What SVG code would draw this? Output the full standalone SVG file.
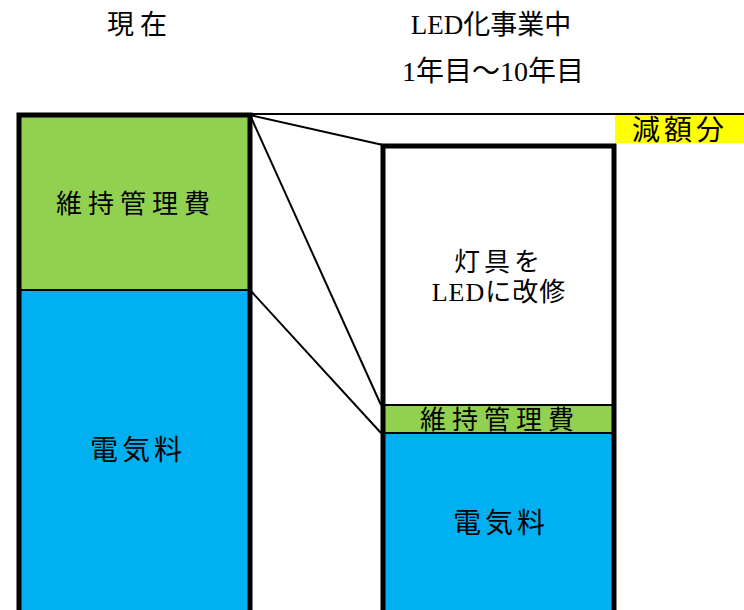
<svg xmlns="http://www.w3.org/2000/svg" width="744" height="610" viewBox="0 0 744 610">
<style>
.t{font-family:"Liberation Serif","Noto Sans CJK JP",serif;fill:#000;text-anchor:middle;dominant-baseline:central}
.thick{stroke:#000;stroke-width:5;fill:none}
.div{stroke:#000;stroke-width:2}
.conn{stroke:#000;stroke-width:2;fill:none}
</style>
<rect width="744" height="610" fill="#fff"/>
<g id="titles">
<text class="t" x="140" y="25" font-size="27" letter-spacing="6">現在</text>
<text class="t" x="491" y="25" font-size="27">LED化事業中</text>
<text class="t" x="493" y="71" font-size="28">1年目～10年目</text>
</g>
<g id="connectors">
<line class="conn" x1="250" y1="114" x2="744" y2="114"/>
<line class="conn" x1="250" y1="115" x2="383" y2="145"/>
<line class="conn" x1="250" y1="115" x2="381" y2="405"/>
<line class="conn" x1="250" y1="290" x2="381" y2="433"/>
</g>
<g id="current">
<rect x="19" y="115" width="231" height="175" fill="#92D050"/>
<rect x="19" y="290" width="231" height="325" fill="#00B0F0"/>
<line class="div" x1="19" y1="290" x2="250" y2="290"/>
<rect class="thick" x="19" y="115" width="231" height="500"/>
<text class="t" x="136" y="204" font-size="26" letter-spacing="6">維持管理費</text>
<text class="t" x="138" y="450" font-size="28" letter-spacing="4">電気料</text>
</g>
<g id="led">
<rect x="383" y="146" width="231" height="259" fill="#fff"/>
<rect x="383" y="405" width="231" height="28" fill="#92D050"/>
<rect x="383" y="433" width="231" height="182" fill="#00B0F0"/>
<line class="div" x1="383" y1="405" x2="614" y2="405"/>
<line class="div" x1="383" y1="433" x2="614" y2="433"/>
<rect class="thick" x="383" y="146" width="231" height="469"/>
<text class="t" x="499" y="262" font-size="26" letter-spacing="4">灯具を</text>
<text class="t" x="499" y="292" font-size="26" letter-spacing="1">LEDに改修</text>
<text class="t" x="500" y="420" font-size="26" letter-spacing="6">維持管理費</text>
<text class="t" x="501" y="523" font-size="28" letter-spacing="4">電気料</text>
</g>
<g id="reduction">
<rect x="615" y="115" width="129" height="28" fill="#FFFF00"/>
<text class="t" x="680" y="130" font-size="28" letter-spacing="4">減額分</text>
</g>
</svg>
